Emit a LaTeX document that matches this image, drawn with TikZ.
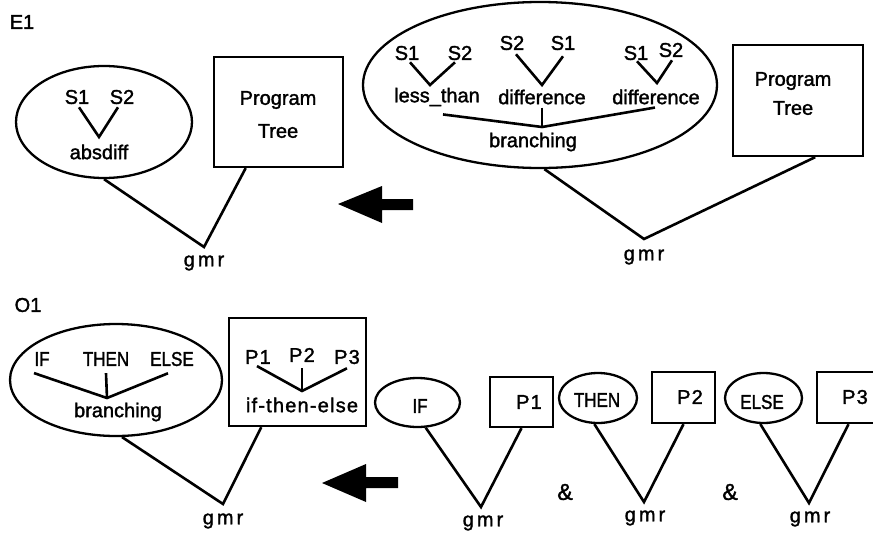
\documentclass[tikz,border=0pt]{standalone}
\usepackage{fontspec}
\setmainfont{Liberation Sans}
\newfontfamily\fa[FakeBold=1.6]{Liberation Sans}
\newfontfamily\fg[LetterSpace=15,FakeBold=1.6]{Liberation Sans}
\newfontfamily\fw[LetterSpace=6,FakeBold=1.6]{Liberation Sans}
\newfontfamily\fc[FakeStretch=0.85,FakeBold=1.6]{Liberation Sans}
\usetikzlibrary{shapes.geometric,calc}
\begin{document}
\begin{tikzpicture}[x=1pt,y=-1pt,
  ln/.style={line width=2.6pt, line join=miter},
  ell/.style={ellipse, draw, line width=2.3pt, inner sep=0pt},
  box/.style={rectangle, draw, line width=2.3pt, inner sep=0pt},
  txt/.style={inner sep=1pt, font=\fa\fontsize{20}{22}\selectfont},
  amp/.style={inner sep=1pt, font=\fa\fontsize{23}{25}\selectfont},
  gm/.style={inner sep=1pt, font=\fg\fontsize{20}{22}\selectfont},
  wide/.style={inner sep=1pt, font=\fw\fontsize{20}{22}\selectfont},
  cnd/.style={inner sep=1pt, font=\fc\fontsize{20}{22}\selectfont},
  bigarrow/.style={fill=black}]
\useasboundingbox (0,0) rectangle (873,541);
\clip (0,0) rectangle (873,541);

% ---------------- E1 ----------------
\node[txt] (E1) at (22,22) {E1};

% left: absdiff ellipse + Program Tree box
\node[ell, minimum width=176pt, minimum height=112pt] (e1) at (104,122) {};
\node[txt] (e1s1) at (77,97) {S1};
\node[txt] (e1s2) at (122,97) {S2};
\coordinate (e1v) at (99,137);
\node[txt] (absdiff) at (99,152) {absdiff};
\draw[ln] ($(e1s1.south)+(2,2)$) -- (e1v) -- ($(e1s2.south)+(-4,2)$);

\node[box, minimum width=129pt, minimum height=110pt] (b1) at (278.5,112) {};
\node[txt] (prog1) at (278,100) {Program};
\node[txt] (tree1) at (278,131) {Tree};

\coordinate (g1v) at (204,247);
\node[gm] (g1) at (204,263) {gmr};
\draw[ln] (e1.south) -- (g1v) -- ($(b1.south west)!0.25!(b1.south east)$);

% arrow
\fill[bigarrow] (338,204) -- (382,186) -- (382,199) -- (413,199) -- (413,210) -- (382,210) -- (382,223) -- cycle;

% right: branching ellipse + Program Tree box
\node[ell, minimum width=354pt, minimum height=166pt] (e2) at (540,85) {};
\node[txt] (e2s1a) at (407,53) {S1};
\node[txt] (e2s2a) at (460,53) {S2};
\coordinate (e2va) at (430,85);
\node[txt] (lt) at (437,97) {less\_than};
\draw[ln] ($(e2s1a.south)+(3,1)$) -- (e2va) -- ($(e2s2a.south)+(-5,1)$);

\node[txt] (e2s2b) at (512,43) {S2};
\node[txt] (e2s1b) at (563,43) {S1};
\coordinate (e2vb) at (542,85);
\node[txt] (diff1) at (542,97) {difference};
\draw[ln] ($(e2s2b.south)+(4,3)$) -- (e2vb) -- ($(e2s1b.south)+(0,5)$);

\node[txt] (e2s1c) at (636,53) {S1};
\node[txt] (e2s2c) at (671,50) {S2};
\coordinate (e2vc) at (657,83);
\node[txt] (diff2) at (656,97) {difference};
\draw[ln] ($(e2s1c.south)+(1,0)$) -- (e2vc) -- ($(e2s2c.south)+(1,2)$);

\coordinate (e2vd) at (542,127);
\node[txt] (br1) at (533,142) {branching};
\draw[ln] ($(lt.south)+(6,7)$) -- (e2vd) -- ($(diff2.south)+(-1,2)$);
\draw[ln] ($(diff1.south)+(0,2)$) -- (e2vd);

\node[box, minimum width=130pt, minimum height=111pt] (b2) at (798,100.5) {};
\node[txt] (prog2) at (793,81) {Program};
\node[txt] (tree2) at (793,108) {Tree};

\coordinate (g2v) at (644,239);
\node[gm] (g2) at (644,257) {gmr};
\draw[ln] (e2.-87) -- (g2v) -- ($(b2.south west)!0.63!(b2.south east)$);

% ---------------- O1 ----------------
\node[txt] (O1) at (28,305) {O1};

\node[ell, minimum width=212pt, minimum height=112pt] (e3) at (116,380) {};
\node[cnd] (if3) at (42,359) {IF};
\node[cnd] (then3) at (106,359) {THEN};
\node[cnd] (else3) at (172,359) {ELSE};
\coordinate (e3v) at (107,398);
\node[txt] (br2) at (118,412) {branching};
\draw[ln] ($(if3.south)+(-8,6)$) -- (e3v) -- ($(else3.south)+(-4,6)$);
\draw[ln] ($(then3.south)+(0,6)$) -- (e3v);

\node[box, minimum width=137pt, minimum height=108pt] (b3) at (297.5,372) {};
\node[wide] (p1) at (258,357) {P1};
\node[wide] (p2) at (302,355) {P2};
\node[wide] (p3) at (347,357) {P3};
\coordinate (b3v) at (302,391);
\node[wide] (ite) at (302,405) {if-then-else};
\draw[ln] ($(p1.south)+(-1,1)$) -- (b3v) -- ($(p3.south)+(0,3)$);
\draw[ln] ($(p2.south)+(0,5)$) -- (b3v);

\coordinate (g3v) at (223,504);
\node[gm] (g3) at (223,521) {gmr};
\draw[ln] (e3.-84) -- (g3v) -- ($(b3.south west)!0.24!(b3.south east)$);

% arrow
\fill[bigarrow] (322,483) -- (366,464) -- (366,477) -- (398,477) -- (398,488) -- (366,488) -- (366,502) -- cycle;

% IF / P1
\node[ell, minimum width=85pt, minimum height=49pt] (eif) at (417.5,402.5) {};
\node[cnd] (tif) at (420,406) {IF};
\node[box, minimum width=63pt, minimum height=50pt] (bp1) at (521.5,402) {};
\node[wide] (tp1) at (529,402) {P1};
\coordinate (g4v) at (481,507);
\node[gm] (g4) at (483,523) {gmr};
\draw[ln] (eif.-72) -- (g4v) -- (bp1.south);

\node[amp] (amp1) at (565,492) {\&};

% THEN / P2
\node[ell, minimum width=78pt, minimum height=50pt] (ethen) at (598,398) {};
\node[cnd] (tthen) at (597,400) {THEN};
\node[box, minimum width=63pt, minimum height=51pt] (bp2) at (683.5,397.5) {};
\node[wide] (tp2) at (690,397) {P2};
\coordinate (g5v) at (644,502);
\node[gm] (g5) at (645,518) {gmr};
\draw[ln] (ethen.-98) -- (g5v) -- (bp2.south);

\node[amp] (amp2) at (730,492) {\&};

% ELSE / P3
\node[ell, minimum width=77pt, minimum height=50pt] (eelse) at (763.5,398) {};
\node[cnd] (telse) at (762,402) {ELSE};
\node[box, minimum width=63pt, minimum height=51pt] (bp3) at (848.5,397.5) {};
\node[wide] (tp3) at (855,397) {P3};
\coordinate (g6v) at (809,503);
\node[gm] (g6) at (810,519) {gmr};
\draw[ln] (eelse.-97) -- (g6v) -- (bp3.south);
\end{tikzpicture}
\end{document}
